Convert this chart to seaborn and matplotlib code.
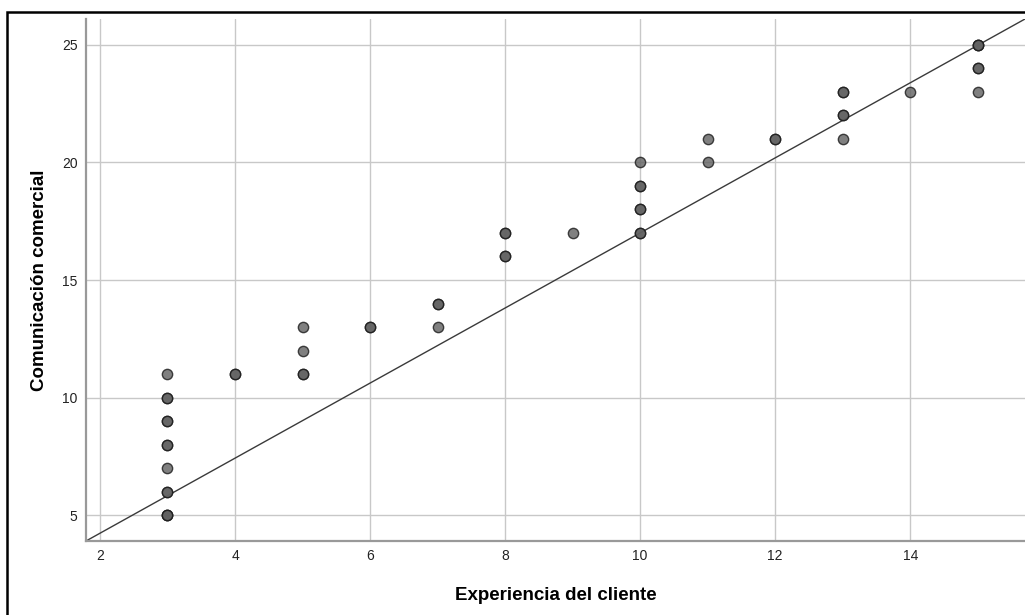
import numpy as np
import pandas as pd
import matplotlib
matplotlib.use("Agg")
import matplotlib.pyplot as plt
import matplotlib.patches as mpatches
import seaborn as sns

# Data (repeated pairs represent overlapping cases)
experiencia = [3, 3, 3, 3, 3, 3, 3, 3, 3, 3, 3, 3, 3,
               4, 4,
               5, 5, 5, 5,
               6, 6,
               7, 7, 7,
               8, 8, 8, 8,
               9,
               10, 10, 10, 10, 10, 10, 10,
               11, 11,
               12, 12,
               13, 13, 13, 13, 13,
               14,
               15, 15, 15, 15, 15, 15]
comunicacion = [5, 5, 5, 6, 6, 7, 8, 8, 9, 9, 10, 10, 11,
                11, 11,
                11, 11, 12, 13,
                13, 13,
                13, 14, 14,
                16, 16, 17, 17,
                17,
                17, 17, 18, 18, 19, 19, 20,
                20, 21,
                21, 21,
                21, 22, 22, 23, 23,
                23,
                23, 24, 24, 25, 25, 25]
x_ticks = [2, 4, 6, 8, 10, 12, 14]
y_ticks = [5, 10, 15, 20, 25]
x_label = "Experiencia del cliente"
y_label = "Comunicación comercial"

df = pd.DataFrame({"x": experiencia, "y": comunicacion})

sns.set_style("white")
plt.rcParams["font.family"] = ["Liberation Sans", "DejaVu Sans"]

fig = plt.figure(figsize=(10.25, 6.15), dpi=100)
ax = fig.add_axes([86 / 1025, 1 - 541 / 615, (1025 - 86) / 1025, (541 - 19) / 615])

sns.scatterplot(data=df, x="x", y="y", ax=ax, s=55,
                color=(0.38, 0.38, 0.38), alpha=0.8,
                edgecolor=(0.1, 0.1, 0.1), linewidth=1.0, zorder=3)

ax.set_xlim(1.793, 15.7)
ax.set_ylim(3.894, 26.106)
ax.plot([0, 1], [0, 1], transform=ax.transAxes, color="#3a3a3a", lw=1.0, zorder=2)

ax.set_xticks(x_ticks)
ax.set_yticks(y_ticks)
ax.grid(True, color="#c8c8c8", lw=1.0, zorder=0)
ax.set_axisbelow(True)
ax.tick_params(axis="both", length=0, labelsize=10, colors="#222222", pad=6)

for side in ["top", "right"]:
    ax.spines[side].set_visible(False)
for side in ["left", "bottom"]:
    ax.spines[side].set_color("#999999")
    ax.spines[side].set_linewidth(1.6)

ax.set_xlabel(x_label, fontsize=13.5, fontweight="bold", labelpad=17, color="black")
ax.set_ylabel(y_label, fontsize=13.5, fontweight="bold", labelpad=10, color="black")

# outer frame
fig.add_artist(mpatches.Rectangle((7 / 1025, -0.2), 1.5, 1.2 - 12 / 615,
                                  fill=False, edgecolor="black", lw=1.8,
                                  transform=fig.transFigure, clip_on=False))

fig.savefig("out.png", dpi=100)
